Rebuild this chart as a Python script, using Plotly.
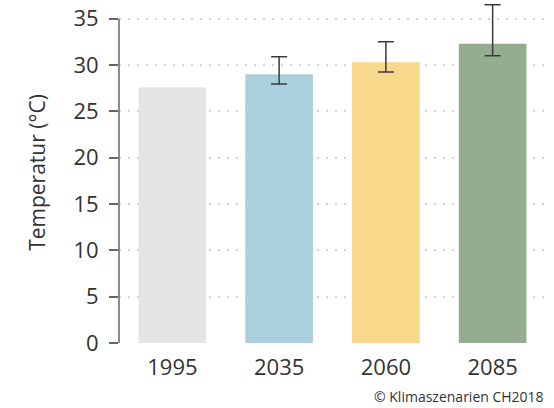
import plotly.graph_objects as go

# Summer maximum temperature per reference period
periods = ["1995", "2035", "2060", "2085"]
temperature = [27.6, 29.0, 30.3, 32.3]
# Projected ranges (only for future periods)
range_periods = ["2035", "2060", "2085"]
range_center = [29.0, 30.3, 32.3]
upper = [30.9, 32.5, 36.5]
lower = [27.95, 29.25, 31.0]
bar_colors = ["#e4e4e4", "#abcfdc", "#f8d98c", "#94ad91"]
y_ticks = [0, 5, 10, 15, 20, 25, 30, 35]

fig = go.Figure()
fig.add_trace(go.Bar(
    x=periods,
    y=temperature,
    marker=dict(color=bar_colors, line=dict(width=0)),
    hoverinfo="skip",
))

fig.add_trace(go.Scatter(
    x=range_periods,
    y=range_center,
    mode="markers",
    marker=dict(size=1, opacity=0),
    error_y=dict(
        type="data",
        symmetric=False,
        array=[u - c for u, c in zip(upper, range_center)],
        arrayminus=[c - l for c, l in zip(range_center, lower)],
        color="#3a3a3a",
        thickness=1.5,
        width=8,
    ),
    cliponaxis=False,
    hoverinfo="skip",
))

# vertical axis line spanning 0..35
fig.add_shape(type="line", xref="paper", yref="y",
              x0=0, x1=0, y0=0, y1=max(y_ticks),
              line=dict(color="#666666", width=1.5))

fig.add_annotation(text="© Klimaszenarien CH2018", xref="paper", yref="paper",
                   x=1.0, y=-0.158, xanchor="right", yanchor="middle",
                   showarrow=False, font=dict(size=14, color="#333333"))

fig.update_layout(
    width=554, height=408,
    margin=dict(l=119, r=8, t=2, b=65),
    paper_bgcolor="white",
    plot_bgcolor="white",
    showlegend=False,
    bargap=0.366,
    font=dict(family="Open Sans, sans-serif", color="#333333"),
    xaxis=dict(
        showline=False, showgrid=False, ticks="",
        tickfont=dict(size=22, color="#333333"),
        ticklabelstandoff=9,
    ),
    yaxis=dict(
        range=[0, 36.8],
        tickvals=y_ticks,
        ticks="outside", ticklen=9, tickwidth=1.5, tickcolor="#666666",
        tickfont=dict(size=22, color="#333333"),
        ticklabelstandoff=6,
        showline=False,
        showgrid=True, gridcolor="#d2d2d2", gridwidth=1.5, griddash="2px,7px",
        zeroline=False,
        title=dict(text="Temperatur (°C)", font=dict(size=21, color="#333333"), standoff=22),
    ),
)

fig.write_html("out.html")
